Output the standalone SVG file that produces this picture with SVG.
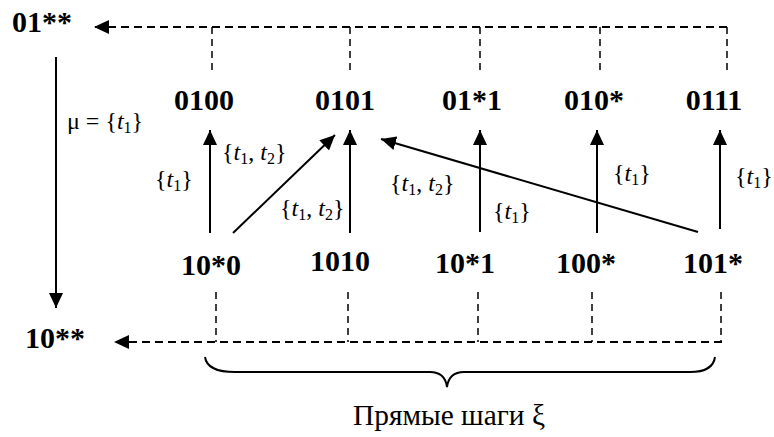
<svg xmlns="http://www.w3.org/2000/svg" width="774" height="437" viewBox="0 0 774 437">
<defs>
<marker id="ah" markerUnits="userSpaceOnUse" markerWidth="16" markerHeight="14" refX="15" refY="7" orient="auto">
<path d="M0,0 L15,7 L0,14 Z" fill="#000"/>
</marker>
</defs>
<style>
.n{font-weight:bold;font-size:30px;text-anchor:middle;fill:#000}
.l{font-size:24px;fill:#000}
.c{font-size:29px;fill:#000}
.i{font-style:italic}
.s{font-size:16px}
.a{stroke:#000;stroke-width:2;fill:none;marker-end:url(#ah)}
.d{stroke:#000;stroke-width:2;fill:none;stroke-dasharray:8 5}
.v{stroke:#000;stroke-width:1.5;fill:none;stroke-dasharray:7 5}
</style>
<rect width="774" height="437" fill="#fff"/>
<g id="connectors">
<path class="d" d="M727,27 H94" marker-end="url(#ah)"/>
<path class="v" d="M212,27 V75 M350,27 V75 M480,27 V75 M600,27 V75 M727,27 V75"/>
<path class="d" d="M722,342 H114" marker-end="url(#ah)"/>
<path class="v" d="M216,292 V342 M348,292 V342 M478,292 V342 M592,292 V342 M721,292 V342"/>
<path class="a" d="M56,57 V308"/>
<path class="a" d="M210,233 V130"/>
<path class="a" d="M350,233 V130"/>
<path class="a" d="M233,233 L335,135"/>
<path class="a" d="M698,232 L381,139"/>
<path class="a" d="M480,232 V130"/>
<path class="a" d="M597,233 V130"/>
<path class="a" d="M720,229 V130"/>
<path d="M205,357 Q207,372 235,372 H430 Q445,372 447,387 Q449,372 464,372 H690 Q713,372 715,357" stroke="#000" stroke-width="2" fill="none"/>
</g>
<g font-family="Liberation Serif, Times New Roman, serif">
<g id="n01xx"><text class="n" x="42" y="32">01**</text></g>
<g id="n10xx"><text class="n" x="55" y="348">10**</text></g>
<g id="n0100"><text class="n" x="204" y="110">0100</text></g>
<g id="n0101"><text class="n" x="345" y="110">0101</text></g>
<g id="n01x1"><text class="n" x="472" y="110">01*1</text></g>
<g id="n010x"><text class="n" x="594" y="110">010*</text></g>
<g id="n0111"><text class="n" x="714" y="110">0111</text></g>
<g id="n10x0"><text class="n" x="211" y="275">10*0</text></g>
<g id="n1010"><text class="n" x="340" y="271">1010</text></g>
<g id="n10x1"><text class="n" x="465" y="273">10*1</text></g>
<g id="n100x"><text class="n" x="586" y="273">100*</text></g>
<g id="n101x"><text class="n" x="713" y="273">101*</text></g>
<g id="labels">
<text class="l" x="67" y="129">μ = {<tspan class="i">t</tspan><tspan class="s" dy="4">1</tspan><tspan dy="-4">}</tspan></text>
<text class="l" x="155" y="187">{<tspan class="i">t</tspan><tspan class="s" dy="4">1</tspan><tspan dy="-4">}</tspan></text>
<text class="l" x="222" y="160">{<tspan class="i">t</tspan><tspan class="s" dy="4">1</tspan><tspan dy="-4">, </tspan><tspan class="i">t</tspan><tspan class="s" dy="4">2</tspan><tspan dy="-4">}</tspan></text>
<text class="l" x="280" y="216">{<tspan class="i">t</tspan><tspan class="s" dy="4">1</tspan><tspan dy="-4">, </tspan><tspan class="i">t</tspan><tspan class="s" dy="4">2</tspan><tspan dy="-4">}</tspan></text>
<text class="l" x="390" y="191">{<tspan class="i">t</tspan><tspan class="s" dy="4">1</tspan><tspan dy="-4">, </tspan><tspan class="i">t</tspan><tspan class="s" dy="4">2</tspan><tspan dy="-4">}</tspan></text>
<text class="l" x="493" y="219">{<tspan class="i">t</tspan><tspan class="s" dy="4">1</tspan><tspan dy="-4">}</tspan></text>
<text class="l" x="613" y="181">{<tspan class="i">t</tspan><tspan class="s" dy="4">1</tspan><tspan dy="-4">}</tspan></text>
<text class="l" x="735" y="184">{<tspan class="i">t</tspan><tspan class="s" dy="4">1</tspan><tspan dy="-4">}</tspan></text>
<text class="c" x="353" y="425" textLength="192" lengthAdjust="spacingAndGlyphs">Прямые шаги ξ</text>
</g>
</g>
</svg>
